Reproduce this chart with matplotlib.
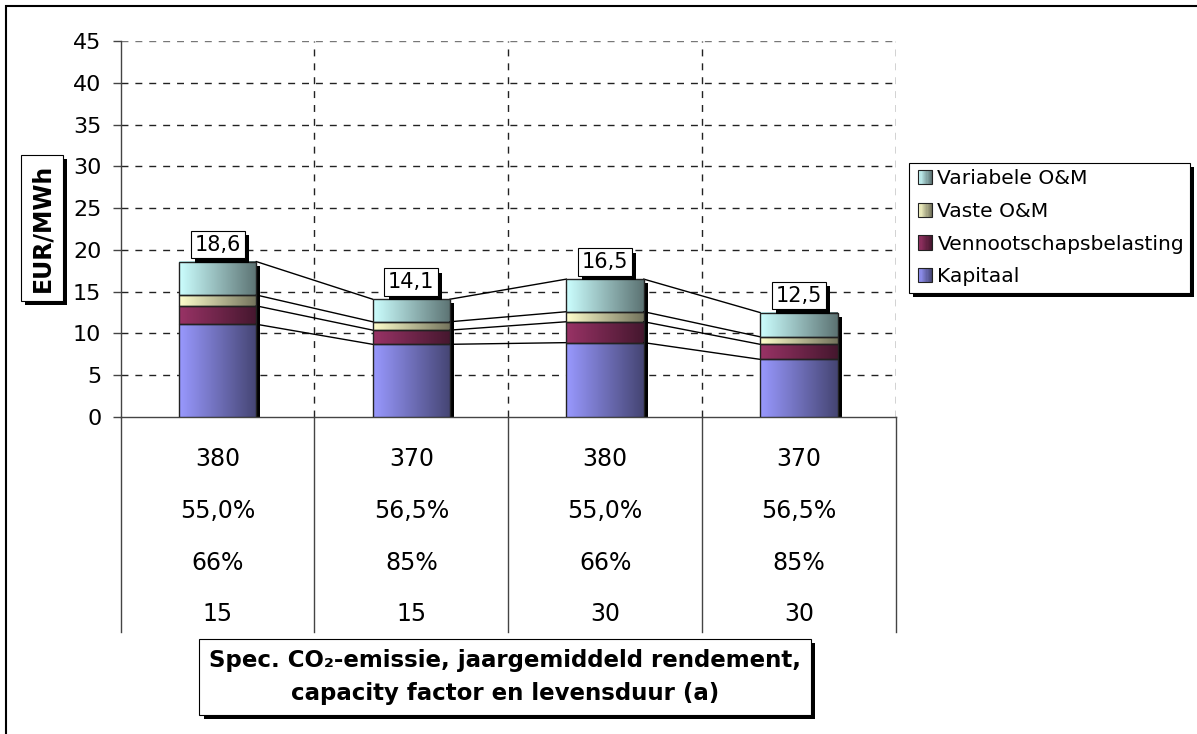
import numpy as np
import matplotlib
matplotlib.use("Agg")
import matplotlib.pyplot as plt
from matplotlib.colors import LinearSegmentedColormap, to_rgb
from matplotlib.patches import Rectangle
from matplotlib.transforms import blended_transform_factory, offset_copy
import matplotlib.patheffects as pe
from matplotlib.legend_handler import HandlerBase

# --- data -------------------------------------------------------------
row_co2 = ["380", "370", "380", "370"]
row_rendement = ["55,0%", "56,5%", "55,0%", "56,5%"]
row_capacity = ["66%", "85%", "66%", "85%"]
row_levensduur = ["15", "15", "30", "30"]

series_names = ["Kapitaal", "Vennootschapsbelasting", "Vaste O&M", "Variabele O&M"]
kapitaal = [11.1, 8.7, 8.9, 6.9]
vennootschapsbelasting = [2.2, 1.7, 2.5, 1.8]
vaste_om = [1.3, 1.0, 1.2, 0.9]
variabele_om = [4.0, 2.7, 3.9, 2.9]
totals = [18.6, 14.1, 16.5, 12.5]
total_labels = ["18,6", "14,1", "16,5", "12,5"]

yticks = [0, 5, 10, 15, 20, 25, 30, 35, 40, 45]

series_colors = ["#9999FF", "#993366", "#FFFFCC", "#CCFFFF"]

# --- figure -----------------------------------------------------------
W, H = 1197, 734
fig = plt.figure(figsize=(W / 100, H / 100), dpi=100)
plt.rcParams["font.family"] = "DejaVu Sans"

ax_l, ax_r, ax_t, ax_b = 120.7, 895.7, 41.0, 417.0
ax = fig.add_axes([ax_l / W, 1 - ax_b / H, (ax_r - ax_l) / W, (ax_b - ax_t) / H])

x = np.arange(len(totals))
bar_w = 0.40
values = [kapitaal, vennootschapsbelasting, vaste_om, variabele_om]

shadow_fx = [pe.SimplePatchShadow(offset=(3, -3), shadow_rgbFace="black", alpha=1.0),
             pe.Normal()]


def grad_cmap(c):
    r = np.array(to_rgb(c))
    return LinearSegmentedColormap.from_list("g", [r, r * 0.45])


grad = np.linspace(0, 1, 256).reshape(1, -1)

# shadow behind each bar stack
shadow_tr = offset_copy(ax.transData, fig=fig, x=4, y=-4, units="dots")
ax.bar(x, totals, bar_w, color="black", transform=shadow_tr, zorder=2)

bottom = np.zeros(len(x))
cum_levels = []
for vals, col, name in zip(values, series_colors, series_names):
    vals = np.array(vals)
    rects = ax.bar(x, vals, bar_w, bottom=bottom, facecolor="none",
                   edgecolor="#222222", linewidth=1.0, zorder=4, label=name)
    cm = grad_cmap(col)
    for r in rects:
        x0, y0 = r.get_x(), r.get_y()
        ax.imshow(grad, extent=[x0, x0 + r.get_width(), y0, y0 + r.get_height()],
                  aspect="auto", cmap=cm, zorder=3, interpolation="bilinear")
    bottom = bottom + vals
    cum_levels.append(bottom.copy())

# series lines joining segment tops
for lvl in cum_levels:
    for i in range(len(x) - 1):
        ax.plot([x[i] + bar_w / 2, x[i + 1] - bar_w / 2], [lvl[i], lvl[i + 1]],
                color="black", lw=1.0, zorder=3.5)

# total labels
for xi, tot, lab in zip(x, totals, total_labels):
    t = ax.annotate(lab, (xi, tot), xytext=(0, 5), textcoords="offset points",
                    ha="center", va="bottom", fontsize=15, zorder=6,
                    bbox=dict(boxstyle="square,pad=0.18", fc="white", ec="black", lw=0.8))
    t.get_bbox_patch().set_path_effects(shadow_fx)

ax.set_xlim(-0.5, len(x) - 0.5)
ax.set_ylim(0, 45)
ax.set_yticks(yticks)
ax.set_yticklabels([str(v) for v in yticks], fontsize=16)
ax.set_xticks([])
ax.tick_params(axis="y", length=6, width=1, color="#444444", pad=8)

for s in ["top", "right"]:
    ax.spines[s].set_visible(False)
for s in ["left", "bottom"]:
    ax.spines[s].set_color("#444444")
    ax.spines[s].set_linewidth(1.0)

# dashed grid
for yv in yticks[1:]:
    ax.axhline(yv, color="#222222" if yv < 45 else "#777777", lw=1.0,
               ls=(0, (5, 5)), zorder=1)
for xb in np.arange(0.5, len(x), 1.0):
    ax.axvline(xb, color="#222222", lw=1.0, ls=(0, (5, 5)), zorder=1)

# data table under the axis
btr = blended_transform_factory(ax.transData, ax.transAxes)
table_bottom = -(632 - ax_b) / (ax_b - ax_t)
for xb in np.arange(-0.5, len(x), 1.0):
    ax.plot([xb, xb], [0, table_bottom], color="#444444", lw=1.0,
            transform=btr, clip_on=False)
rows = [row_co2, row_rendement, row_capacity, row_levensduur]
row_y_px = [459, 511, 563, 614]
for row, ypx in zip(rows, row_y_px):
    yy = -(ypx - ax_b) / (ax_b - ax_t)
    for xi, txt in zip(x, row):
        ax.text(xi, yy, txt, transform=btr, ha="center", va="center",
                fontsize=17, clip_on=False)

# x-axis title in a shadowed box
xt = fig.text(505 / W, 1 - 677 / H,
              "Spec. CO\u2082-emissie, jaargemiddeld rendement,\ncapacity factor en levensduur (a)",
              ha="center", va="center", fontsize=16.5, fontweight="bold",
              linespacing=1.6,
              bbox=dict(boxstyle="square,pad=0.42", fc="white", ec="black", lw=0.8))
xt.get_bbox_patch().set_path_effects(shadow_fx)

# y-axis title in a shadowed box
yt = fig.text(42 / W, 1 - 228 / H, "EUR/MWh", rotation=90, ha="center", va="center",
              fontsize=17, fontweight="bold",
              bbox=dict(boxstyle="square,pad=0.38", fc="white", ec="black", lw=0.8))
yt.get_bbox_patch().set_path_effects(shadow_fx)


# legend with gradient swatches
class GradientHandler(HandlerBase):
    def __init__(self, color):
        super().__init__()
        self.color = color

    def create_artists(self, legend, orig_handle, xdescent, ydescent, width, height,
                       fontsize, trans):
        c = np.array(to_rgb(self.color))
        n = 12
        artists = []
        size = min(width, height) * 1.0
        x0 = -xdescent + (width - size)
        y0 = -ydescent + (height - size) / 2
        for k in range(n):
            f = k / (n - 1)
            col = c * (1 - 0.55 * f)
            artists.append(Rectangle((x0 + k * size / n, y0), size / n + 0.3, size,
                                     fc=col, ec="none", transform=trans))
        artists.append(Rectangle((x0, y0), size, size, fc="none", ec="#222222",
                                 lw=0.8, transform=trans))
        return artists


handles, labels = ax.get_legend_handles_labels()
handles, labels = handles[::-1], labels[::-1]
cols_rev = series_colors[::-1]
leg = fig.legend(handles, labels,
                 handler_map={h: GradientHandler(c) for h, c in zip(handles, cols_rev)},
                 loc="upper left", bbox_to_anchor=(909 / W, 1 - 163 / H),
                 fontsize=14.6, frameon=True, fancybox=False, edgecolor="black",
                 framealpha=1.0, facecolor="white",
                 handlelength=0.85, handletextpad=0.25, labelspacing=0.68,
                 borderpad=0.3, borderaxespad=0)
leg.get_frame().set_linewidth(0.8)
leg.get_frame().set_path_effects(shadow_fx)

# outer chart border
fig.add_artist(Rectangle((6 / W, -0.05), 1.1, 1 - 5.5 / H + 0.05, transform=fig.transFigure,
                         fc="none", ec="black", lw=1.5))

fig.savefig("out.png", dpi=100)
